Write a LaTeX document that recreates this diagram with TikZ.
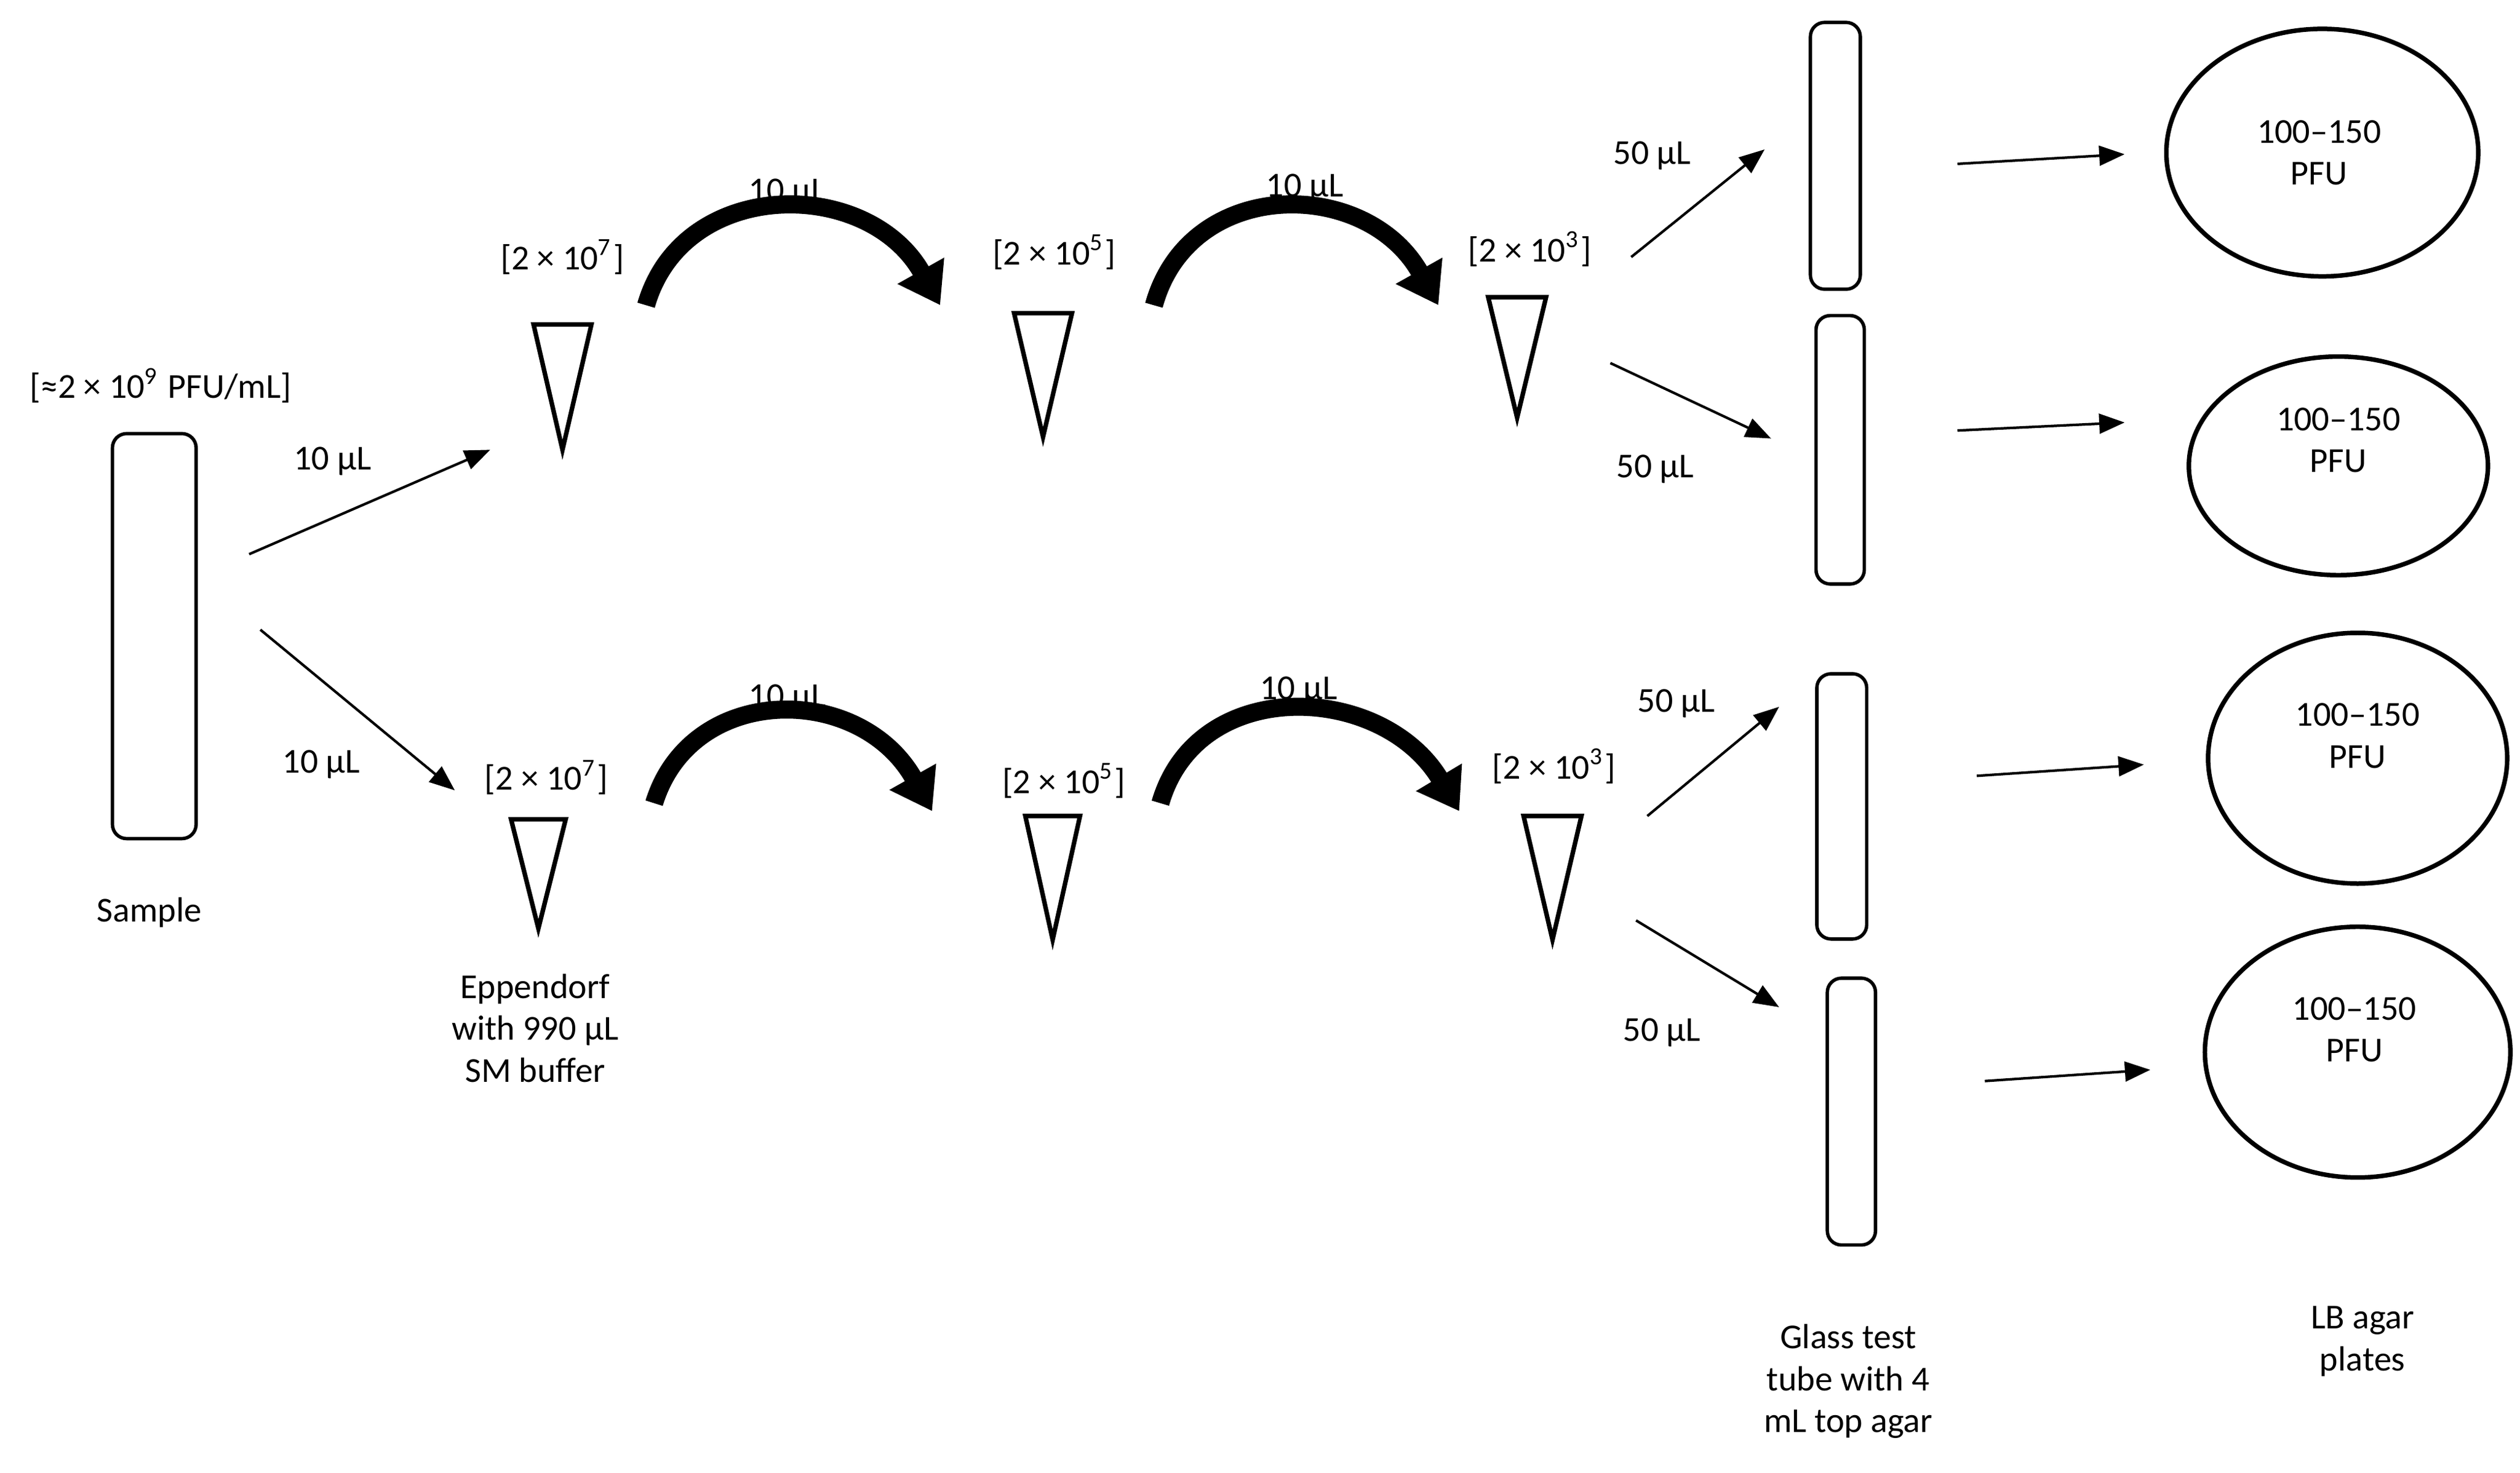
\documentclass[tikz,border=0pt]{standalone}
\usepackage{fontspec}
\setmainfont{Carlito}
\usetikzlibrary{arrows.meta,shapes.geometric}
\begin{document}
\begin{tikzpicture}[x=0.01cm,y=-0.01cm,
  tube/.style={draw,line width=0.6pt,rounded corners=2.5pt,inner sep=0pt},
  plate/.style={draw,line width=0.8pt,ellipse,inner sep=0pt},
  lab/.style={font=\fontsize{6.2}{7.4}\selectfont,align=center,inner sep=0pt},
  thin/.style={-{Triangle[length=4.5pt,width=3.5pt]},line width=0.45pt},
  big/.style={line width=3.2pt,-{Triangle[length=7pt,width=9pt]}},
  tri/.style={line width=0.8pt}]
\useasboundingbox (0,0) rectangle (1568,917);
% sample
\node[tube,minimum width=0.52cm,minimum height=2.52cm] (s) at (96,396) {};
\node[lab] at (100,240) {[≈2 × 10\textsuperscript{9} PFU/mL]};
\node[lab] at (93,568) {Sample};
% triangles
\foreach \n/\x/\t/\b/\w in {a1/350/202/280/18,a2/649/195/272/18,a3/944/185/260/18,b1/335/510/578/17,b2/655/508/585/17,b3/966/508/585/18}{
  \draw[tri] (\x-\w,\t) -- (\x+\w,\t) -- (\x,\b) -- cycle;
  \coordinate (\n) at (\x,\t);}
\node[lab] at (350,160) {[2 × 10\textsuperscript{7}]};
\node[lab] at (656,157) {[2 × 10\textsuperscript{5}]};
\node[lab] at (952,155) {[2 × 10\textsuperscript{3}]};
\node[lab] at (340,484) {[2 × 10\textsuperscript{7}]};
\node[lab] at (662,486) {[2 ×  10\textsuperscript{5}]};
\node[lab] at (967,477) {[2 × 10\textsuperscript{3}]};
\node[lab] at (333,640) {Eppendorf\\with 990 µL\\SM buffer};
% sample arrows
\coordinate (s1) at (155,345); \coordinate (e1) at (305,280);
\coordinate (s2) at (162,392); \coordinate (e2) at (283,492);
\draw[thin] (s1) -- (e1); \draw[thin] (s2) -- (e2);
\node[lab] at (207,287) {10 µL};
\node[lab] at (200,476) {10 µL};
% big curved arrows
\coordinate (c1) at (402,190); \coordinate (d1) at (585,190);
\coordinate (c2) at (718,190); \coordinate (d2) at (895,190);
\coordinate (c3) at (407,500); \coordinate (d3) at (580,505);
\coordinate (c4) at (722,500); \coordinate (d4) at (908,505);
\draw[big] (c1) .. controls (425,110) and (540,110) .. (d1);
\draw[big] (c2) .. controls (740,110) and (850,110) .. (d2);
\draw[big] (c3) .. controls (430,425) and (535,425) .. (d3);
\draw[big] (c4) .. controls (745,420) and (860,425) .. (d4);
\node[lab] at (490,120) {10 µL};
\node[lab] at (812,117) {10 µL};
\node[lab] at (490,435) {10 µL};
\node[lab] at (808,430) {10 µL};
% tubes
\node[tube,minimum width=0.31cm,minimum height=1.66cm] (t1) at (1142,97) {};
\node[tube,minimum width=0.30cm,minimum height=1.67cm] (t2) at (1145,280) {};
\node[tube,minimum width=0.31cm,minimum height=1.65cm] (t3) at (1146,502) {};
\node[tube,minimum width=0.30cm,minimum height=1.66cm] (t4) at (1152,692) {};
\coordinate (f1) at (1015,160); \coordinate (g1) at (1098,93);
\coordinate (f2) at (1002,226); \coordinate (g2) at (1102,273);
\coordinate (f3) at (1025,508); \coordinate (g3) at (1107,440);
\coordinate (f4) at (1018,573); \coordinate (g4) at (1107,627);
\foreach \i in {1,2,3,4} \draw[thin] (f\i) -- (g\i);
\node[lab] at (1028,97) {50 µL};
\node[lab] at (1030,292) {50 µL};
\node[lab] at (1043,438) {50 µL};
\node[lab] at (1034,643) {50 µL};
% plate arrows
\coordinate (h1) at (1218,102); \coordinate (k1) at (1322,96);
\coordinate (h2) at (1218,268); \coordinate (k2) at (1322,263);
\coordinate (h3) at (1230,483); \coordinate (k3) at (1334,476);
\coordinate (h4) at (1235,673); \coordinate (k4) at (1338,666);
\foreach \i in {1,2,3,4} \draw[thin] (h\i) -- (k\i);
% plates
\node[plate,minimum width=1.94cm,minimum height=1.54cm] (p1) at (1445,95) {};
\node[plate,minimum width=1.86cm,minimum height=1.36cm] (p2) at (1455,290) {};
\node[plate,minimum width=1.86cm,minimum height=1.56cm] (p3) at (1467,472) {};
\node[plate,minimum width=1.90cm,minimum height=1.56cm] (p4) at (1467,655) {};
\node[lab] at (1443,95) {100–150\\PFU};
\node[lab] at (1455,274) {100–150\\PFU};
\node[lab] at (1467,458) {100–150\\PFU};
\node[lab] at (1465,641) {100–150\\PFU};
\node[lab] at (1150,860) {Glass test\\tube with 4\\mL top agar};
\node[lab] at (1470,835) {LB agar\\plates};
\end{tikzpicture}
\end{document}
